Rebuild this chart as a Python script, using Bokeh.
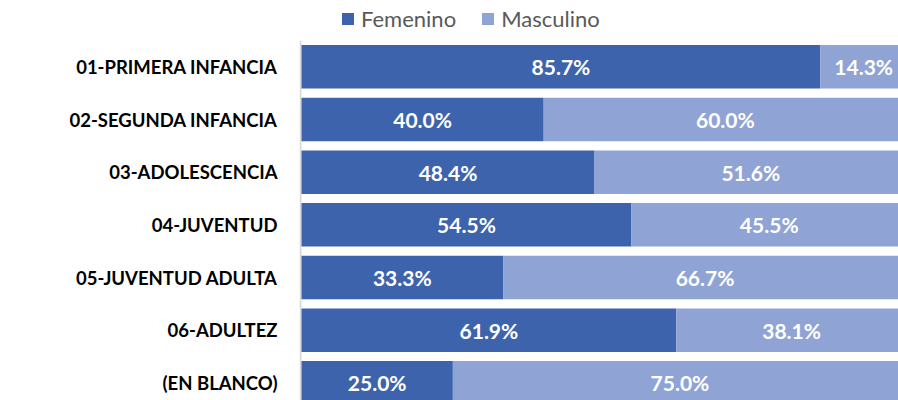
from bokeh.plotting import figure
from bokeh.models import ColumnDataSource, Range1d, FixedTicker, Legend, LegendItem
from bokeh.core.properties import value
from bokeh.embed import file_html
from bokeh.resources import INLINE

categories = ["01-PRIMERA INFANCIA", "02-SEGUNDA INFANCIA", "03-ADOLESCENCIA",
              "04-JUVENTUD", "05-JUVENTUD ADULTA", "06-ADULTEZ", "(EN BLANCO)"]
femenino = [85.7, 40.0, 48.4, 54.5, 33.3, 61.9, 25.0]
masculino = [14.3, 60.0, 51.6, 45.5, 66.7, 38.1, 75.0]
series_names = ["Femenino", "Masculino"]

FEM_COLOR = "#3D63AD"
MAS_COLOR = "#8FA4D5"
AXIS_COLOR = "#D9D9D9"
FONT = "Lato"

ypos = list(range(len(categories)))
src = ColumnDataSource(dict(
    y=ypos,
    f_left=[0] * len(femenino),
    f_right=femenino,
    m_left=femenino,
    m_right=[f + m for f, m in zip(femenino, masculino)],
    f_mid=[f / 2 for f in femenino],
    m_mid=[f + m / 2 for f, m in zip(femenino, masculino)],
    f_lab=[f"{v:.1f}%" for v in femenino],
    m_lab=[f"{v:.1f}%" for v in masculino],
))

Y_BOTTOM = 6.335
Y_TOP = -1.26
p = figure(width=898, height=400, output_backend="svg", toolbar_location=None,
           x_range=Range1d(-0.33, 98.6), y_range=Range1d(Y_BOTTOM, Y_TOP),
           x_axis_location=None,
           min_border_left=299, min_border_right=0, min_border_top=0, min_border_bottom=0)
p.outline_line_color = None
p.grid.visible = False

# category axis line (starts at the top of the first category band)
p.segment(x0=-0.165, x1=-0.165, y0=ypos[0] - 0.5, y1=Y_BOTTOM,
          line_color=AXIS_COLOR, line_width=2)

bh = 0.826
r1 = p.hbar(y="y", left="f_left", right="f_right", height=bh, source=src,
            fill_color=FEM_COLOR, line_color=None)
r2 = p.hbar(y="y", left="m_left", right="m_right", height=bh, source=src,
            fill_color=MAS_COLOR, line_color=None)

for xcol, tcol in (("f_mid", "f_lab"), ("m_mid", "m_lab")):
    p.text(x=xcol, y="y", text=tcol, source=src, text_align="center", text_baseline="middle",
           text_color="white", text_font=value(FONT), text_font_style="bold",
           text_font_size="21px")

ax = p.yaxis[0]
ax.ticker = FixedTicker(ticks=ypos)
ax.major_label_overrides = {i: c for i, c in enumerate(categories)}
ax.major_label_text_font = FONT
ax.major_label_text_font_style = "bold"
ax.major_label_text_font_size = "18.5px"
ax.major_label_text_color = "#000000"
ax.major_label_standoff = 16
ax.major_tick_line_color = None
ax.minor_tick_line_color = None
ax.axis_line_color = None

legend = Legend(items=[LegendItem(label=series_names[0], renderers=[r1]),
                       LegendItem(label=series_names[1], renderers=[r2])],
                orientation="horizontal", location=(41, 368),
                glyph_width=15, glyph_height=15, label_standoff=6, spacing=24,
                label_text_font=FONT, label_text_font_size="22px", label_text_color="#595959",
                padding=0, margin=0, border_line_color=None, background_fill_alpha=0)
p.add_layout(legend)

html = file_html(p, INLINE)
open("out.html", "w").write(html)
